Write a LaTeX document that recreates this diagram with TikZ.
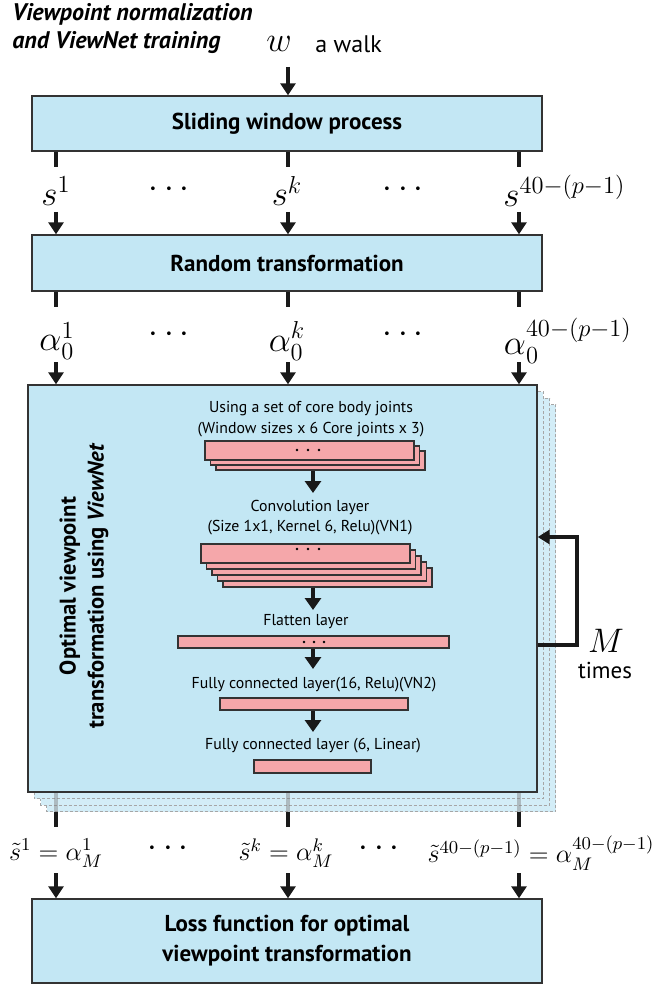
\RequirePackage{fix-cm}
\documentclass[tikz,border=0pt]{standalone}
\usepackage{fontspec}
\setsansfont{PT Sans}
\usepackage{mathtools}
\usetikzlibrary{arrows.meta}
\definecolor{boxblue}{HTML}{C3E7F4}
\definecolor{shadowblue}{HTML}{D3EDF7}
\definecolor{layerpink}{HTML}{F5A7AA}
\definecolor{edgegray}{HTML}{333333}
\begin{document}
\begin{tikzpicture}[x=0.5pt,y=-0.5pt,
  bigbox/.style={draw=edgegray,line width=0.7pt,fill=boxblue,inner sep=0pt,
    font=\sffamily\bfseries\fontsize{11.5}{15}\selectfont,align=center},
  shadowbox/.style={draw=gray!70,dashed,dash pattern=on 1.5pt off 1pt,line width=0.5pt,fill=shadowblue},
  layer/.style={draw=edgegray,line width=0.9pt,fill=layerpink,inner sep=0pt},
  mlab/.style={font=\fontsize{17.5}{20}\selectfont,inner sep=0pt},
  olab/.style={font=\fontsize{13}{15}\selectfont,inner sep=0pt},
  itxt/.style={font=\sffamily\fontsize{7.9}{9}\selectfont,inner sep=0pt},
  tick/.style={line width=2.2pt,draw=black!90},
  arr/.style={line width=1.9pt,draw=black!90,-{Triangle[width=7.5pt,length=6pt]}},
  iarr/.style={line width=2pt,draw=black!90,-{Triangle[width=8pt,length=6pt]}},
  fb/.style={line width=2.4pt,draw=black!90,-{Triangle[width=7pt,length=6pt]}},
  dotc/.style={fill=black,draw=none}]
\useasboundingbox (0,0) rectangle (666,984);

% title
\node[anchor=west,align=left,inner sep=0pt,font=\sffamily\bfseries\itshape\fontsize{12}{14}\selectfont] (title) at (12,29) {Viewpoint normalization\\and ViewNet training};

% columns
\coordinate (c1) at (56,0);
\coordinate (c2) at (288,0);
\coordinate (c3) at (519,0);

% input
\node[mlab] (w) at (279,44) {$w$};
\node[anchor=west,inner sep=0pt,font=\sffamily\fontsize{12}{14}\selectfont] (walk) at (315,44) {a walk};
\coordinate (wstart) at (288,67);

% boxes
\node[bigbox,minimum width=255pt,minimum height=27.5pt] (sw) at (287,123.5) {Sliding window process};
\node[bigbox,minimum width=255pt,minimum height=28pt] (rt) at (287,263) {Random transformation};
\node[bigbox,minimum width=255pt,minimum height=42pt] (loss) at (287,941) {Loss function for optimal\\viewpoint transformation};

\draw[arr] (wstart) -- (sw.north -| wstart);

% s labels
\node[mlab] (s1) at (56,191) {$s^1$};
\node[mlab] (sk) at (287,191) {$s^k$};
\node[mlab] (sn) at (512,191) {$s^{\mathrlap{40-(p-1)}}$};
\node[mlab] (sd1) at (172,190) {$\cdots$};
\node[mlab] (sd2) at (406,190) {$\cdots$};

\foreach \c in {c1,c2,c3}{
  \coordinate (t1\c) at (\c |- 0,167);
  \coordinate (a1\c) at (\c |- 0,212);
  \draw[tick] (sw.south -| \c) -- (t1\c);
  \draw[arr] (a1\c) -- (rt.north -| \c);
}

% alpha labels
\node[mlab] (a1) at (57,341) {$\alpha_0^1$};
\node[mlab] (ak) at (287,341) {$\alpha_0^k$};
\node[mlab] (an) at (515,341) {$\alpha\mathrlap{_0^{40-(p-1)}}$};
\node[mlab] (ad1) at (172,335) {$\cdots$};
\node[mlab] (ad2) at (406,335) {$\cdots$};

% main box with shadows
\foreach \k in {3,2,1}{
  \draw[shadowbox] (28+6.3*\k,385+6.5*\k) rectangle (537+6.3*\k,792+6.5*\k);
}
\node[bigbox,minimum width=254.5pt,minimum height=203.5pt] (main) at (282.5,588.5) {};

\foreach \c in {c1,c2,c3}{
  \coordinate (t2\c) at (\c |- 0,307);
  \coordinate (a2\c) at (\c |- 0,362);
  \draw[tick] (rt.south -| \c) -- (t2\c);
  \draw[arr] (a2\c) -- (main.north -| \c);
}

% vertical label
\node[rotate=90,align=center,inner sep=0pt,font=\sffamily\bfseries\fontsize{11.3}{14}\selectfont] (vlab) at (84,586) {Optimal viewpoint\\transformation using \textit{ViewNet}};

% inner network
\coordinate (ic) at (313,0);
\node[itxt] (txa) at (311,409) {Using a set of core body joints};
\node[itxt] (txb) at (311,430) {(Window sizes x 6 Core joints x 3)};
\foreach \k in {2,1,0}{
  \node[layer,minimum width=104.5pt,minimum height=9.5pt] (la\k) at (309.5+5.5*\k,450.5+5*\k) {};
}
\foreach \dx in {-11,0,11}{\fill[dotc] (308+\dx,450) circle[radius=0.7pt];}
\node[itxt] (txc) at (310,507) {Convolution layer};
\node[itxt] (txd) at (310,528) {(Size 1x1, Kernel 6, Relu)(VN1)};
\foreach \k in {4,3,2,1,0}{
  \node[layer,minimum width=104.5pt,minimum height=9.5pt] (lb\k) at (305.5+5.5*\k,553.5+6*\k) {};
}
\foreach \dx in {-11,0,11}{\fill[dotc] (308+\dx,549) circle[radius=0.7pt];}
\node[itxt] (txe) at (306,622) {Flatten layer};
\node[layer,minimum width=135.5pt,minimum height=6pt] (lc) at (313.5,642) {};
\foreach \dx in {-10,0,10}{\fill[dotc] (314+\dx,642) circle[radius=0.7pt];}
\node[itxt] (txf) at (314,685) {Fully connected layer(16, Relu)(VN2)};
\node[layer,minimum width=94pt,minimum height=6pt] (ld) at (314,704) {};
\node[itxt] (txg) at (313,746) {Fully connected layer (6, Linear)};
\node[layer,minimum width=58.5pt,minimum height=6.5pt] (le) at (312.5,766.5) {};

\draw[iarr] (la2.south -| ic) -- (ic |- 0,493);
\draw[iarr] (lb4.south -| ic) -- (ic |- 0,610);
\draw[iarr] (lc.south -| ic) -- (ic |- 0,669);
\draw[iarr] (ld.south -| ic) -- (ic |- 0,732);

% feedback loop
\coordinate (fb1) at (577,645);
\coordinate (fb2) at (577,537);
\draw[fb] (main.east |- fb1) -- (fb1) -- (fb2) -- (main.east |- fb2);
\node[mlab,font=\fontsize{17}{19}\selectfont] (M) at (606,641) {$M$};
\node[inner sep=0pt,font=\sffamily\fontsize{11.5}{13}\selectfont] (times) at (605,670) {times};

% outputs
\foreach \c in {c1,c2,c3}{
  \coordinate (g\c) at (\c |- 0,812);
  \coordinate (t3\c) at (\c |- 0,827);
  \coordinate (a3\c) at (\c |- 0,873);
  \draw[line width=1.6pt,draw=gray,opacity=0.45] (main.south -| \c) -- (g\c);
  \draw[tick] (g\c) -- (t3\c);
  \draw[arr] (a3\c) -- (loss.north -| \c);
}
\node[olab] (o1) at (56,853) {$\tilde{s}^1=\alpha_M^1$};
\node[olab] (ok) at (286,853) {$\tilde{s}^k=\alpha_M^k$};
\node[olab] (on) at (541,853) {$\tilde{s}^{40-(p-1)}=\alpha_M^{40-(p-1)}$};
\node[mlab] (od1) at (171,849) {$\cdots$};
\node[mlab] (od2) at (382,849) {$\cdots$};
\end{tikzpicture}
\end{document}
